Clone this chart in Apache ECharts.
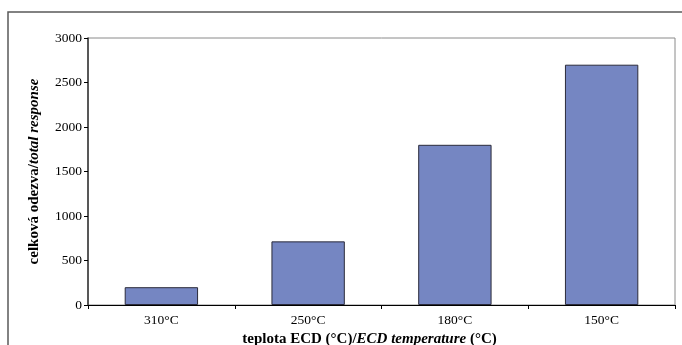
<!DOCTYPE html>
<html>
<head>
<meta charset="utf-8">
<script src="https://cdn.jsdelivr.net/npm/echarts@6/dist/echarts.min.js"></script>
<style>
  html, body { margin: 0; padding: 0; background: #fff; }
  #chart { width: 682px; height: 345px; }
</style>
</head>
<body>
<div id="chart"></div>
<script>
// Detector response at different ECD temperatures
const categories = ['310°C', '250°C', '180°C', '150°C'];
const responses = [200, 715, 1800, 2700];
const yTicks = [0, 500, 1000, 1500, 2000, 2500, 3000];

const serif = '"Liberation Serif", "Times New Roman", serif';
const chart = echarts.init(document.getElementById('chart'));

chart.setOption({
  animation: false,
  backgroundColor: '#fff',
  graphic: [
    {
      // outer frame, cut off by the page edge on the right and bottom
      type: 'rect',
      shape: { x: 8, y: 12, width: 720, height: 400 },
      style: { fill: 'none', stroke: '#5a5a5a', lineWidth: 1.5 },
      silent: true
    }
  ],
  grid: {
    left: 88, top: 38, right: 7, bottom: 40,
    outerBoundsMode: 'none',
    show: true,
    borderColor: '#8a8a8a',
    borderWidth: 1,
    backgroundColor: 'transparent'
  },
  xAxis: {
    type: 'category',
    data: categories,
    axisLine: { lineStyle: { color: '#000', width: 1 } },
    axisTick: { show: true, inside: false, length: 4, lineStyle: { color: '#000' } },
    axisLabel: { color: '#000', fontFamily: serif, fontSize: 13.5, margin: 8 },
    name: '{b|teplota ECD (°C)/}{bi|ECD temperature}{b| (°C)}',
    nameLocation: 'middle',
    nameGap: 25,
    nameTextStyle: {
      padding: [0, 24, 0, 0],
      rich: {
        b: { fontFamily: serif, fontSize: 15, fontWeight: 'bold', color: '#000' },
        bi: { fontFamily: serif, fontSize: 15, fontWeight: 'bold', fontStyle: 'italic', color: '#000' }
      }
    }
  },
  yAxis: {
    type: 'value',
    min: yTicks[0],
    max: yTicks[yTicks.length - 1],
    interval: yTicks[1] - yTicks[0],
    splitLine: { show: false },
    axisLine: { show: true, lineStyle: { color: '#333', width: 1.5 } },
    axisTick: { show: true, inside: false, length: 4, lineStyle: { color: '#000' } },
    axisLabel: {
      color: '#000', fontFamily: serif, fontSize: 13.5, margin: 6,
      formatter: (v) => String(v)
    },
    name: '{b|celková odezva/}{bi|total response}',
    nameLocation: 'middle',
    nameRotate: 90,
    nameGap: 46,
    nameTextStyle: {
      rich: {
        b: { fontFamily: serif, fontSize: 15, fontWeight: 'bold', color: '#000' },
        bi: { fontFamily: serif, fontSize: 15, fontWeight: 'bold', fontStyle: 'italic', color: '#000' }
      }
    }
  },
  series: [
    {
      type: 'bar',
      data: responses,
      barWidth: '50%',
      itemStyle: { color: '#7586c2', borderColor: '#2b2b3a', borderWidth: 1 },
      silent: true
    }
  ]
});
</script>
</body>
</html>
